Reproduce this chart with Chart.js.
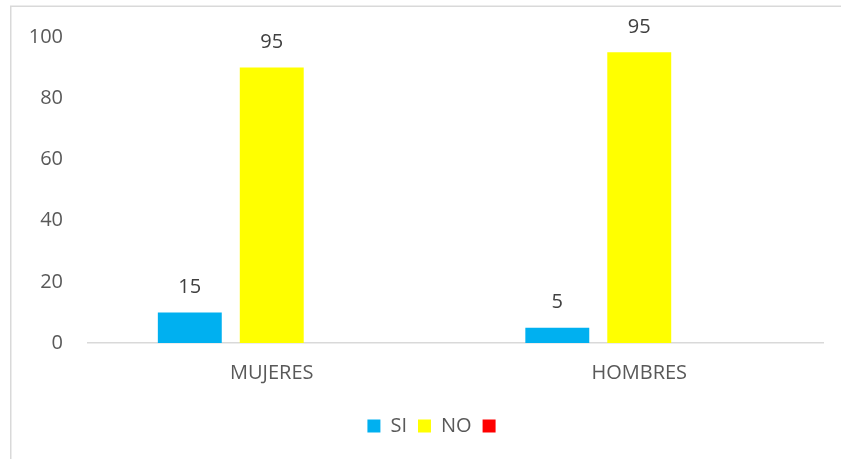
<!DOCTYPE html>
<html>
<head>
<meta charset="utf-8">
<script src="https://cdn.jsdelivr.net/npm/chart.js@4.4.1/dist/chart.umd.min.js"></script>
<style>
  html, body { margin: 0; padding: 0; background: #ffffff; }
  #wrap { position: relative; width: 841px; height: 459px; }
</style>
</head>
<body>
<div id="wrap"><canvas id="c" width="841" height="459"></canvas></div>
<script>
// ---- data ----
const categories = ["MUJERES", "HOMBRES"];
const siValues = [10, 5];        // bar heights as drawn
const noValues = [90, 95];       // bar heights as drawn
const emptyValues = [null, null];// third (red) series, no bars
const siLabels = ["15", "5"];    // data labels as printed
const noLabels = ["95", "95"];   // data labels as printed
const yTicks = [0, 20, 40, 60, 80, 100];

const FONT = "'Open Sans', 'Liberation Sans', sans-serif";
const AXIS_COLOR = "#595959";
const LINE_COLOR = "#d9d9d9";

const frameBorder = {
  id: 'frameBorder',
  beforeDraw(chart) {
    const ctx = chart.ctx;
    ctx.save();
    ctx.strokeStyle = LINE_COLOR;
    ctx.lineWidth = 1.5;
    ctx.beginPath();
    ctx.moveTo(10.75, chart.height + 5);
    ctx.lineTo(10.75, 6.25);
    ctx.lineTo(chart.width + 5, 6.25);
    ctx.stroke();
    ctx.restore();
  }
};

// the reference legend is centred on the (wider, clipped) chart frame
const legendShift = {
  id: 'legendShift',
  afterLayout(chart) {
    if (chart.legend) {
      chart.legend.left += 20;
      chart.legend.right += 20;
    }
  }
};

const dataLabels = {
  id: 'dataLabels',
  afterDatasetsDraw(chart) {
    const ctx = chart.ctx;
    const labelSets = [siLabels, noLabels];
    ctx.save();
    ctx.font = "20px " + FONT;
    ctx.fillStyle = "#404040";
    ctx.textAlign = "center";
    ctx.textBaseline = "middle";
    labelSets.forEach((labels, di) => {
      const meta = chart.getDatasetMeta(di);
      meta.data.forEach((bar, i) => {
        if (labels[i] == null) return;
        ctx.fillText(labels[i], bar.x, bar.y - 25);
      });
    });
    ctx.restore();
  }
};

new Chart(document.getElementById('c'), {
  type: 'bar',
  data: {
    labels: categories,
    datasets: [
      { label: "SI", data: siValues, backgroundColor: "#00B0F0" },
      { label: "NO", data: noValues, backgroundColor: "#FFFF00" },
      { label: "", data: emptyValues, backgroundColor: "#FF0000" }
    ]
  },
  options: {
    responsive: false,
    animation: false,
    devicePixelRatio: 1,
    categoryPercentage: 0.669,
    barPercentage: 0.78,
    layout: { padding: { left: 10, right: 18, top: 33, bottom: 13 } },
    plugins: {
      legend: {
        display: true,
        position: 'bottom',
        labels: {
          boxWidth: 13,
          boxHeight: 13,
          padding: 11,
          color: AXIS_COLOR,
          font: { family: FONT, size: 20 }
        }
      },
      tooltip: { enabled: false },
      title: { display: false }
    },
    scales: {
      x: {
        grid: { display: false, drawTicks: false },
        border: { display: true, color: LINE_COLOR, width: 1.5 },
        ticks: { color: AXIS_COLOR, padding: 18, font: { family: FONT, size: 20 } },
        afterFit(scale) { scale.height = 62; }
      },
      y: {
        min: yTicks[0],
        max: yTicks[yTicks.length - 1],
        grid: { display: false, drawTicks: false },
        border: { display: false },
        afterBuildTicks(scale) { scale.ticks = yTicks.map(v => ({ value: v })); },
        ticks: { color: AXIS_COLOR, padding: 25, font: { family: FONT, size: 20 } },
        afterFit(scale) { scale.width = 78; }
      }
    }
  },
  plugins: [frameBorder, legendShift, dataLabels]
});
</script>
</body>
</html>
